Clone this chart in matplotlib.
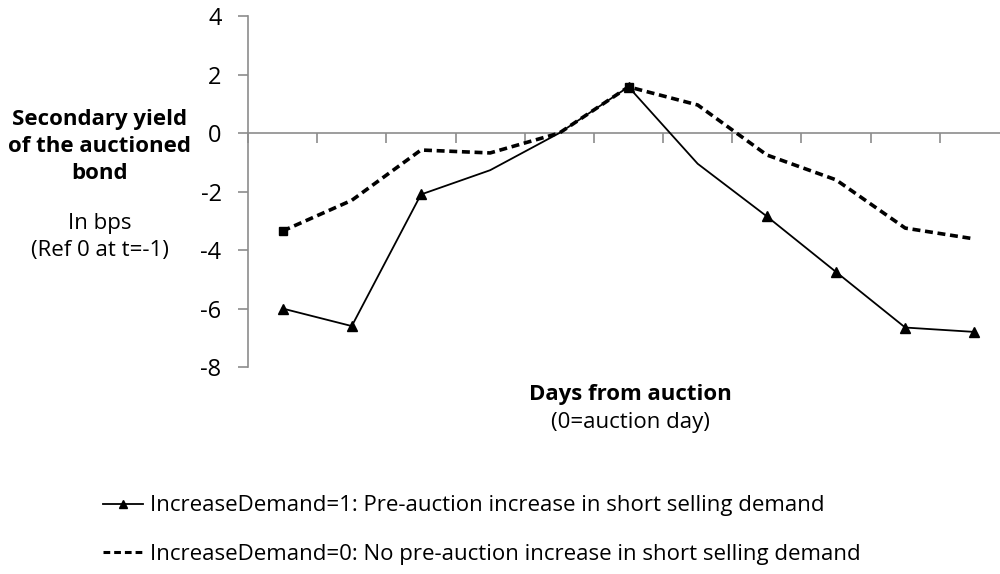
import matplotlib
matplotlib.use("Agg")
import matplotlib.pyplot as plt
from matplotlib.lines import Line2D

plt.rcParams['font.family'] = ['Open Sans', 'DejaVu Sans']

days = [-5, -4, -3, -2, -1, 0, 1, 2, 3, 4, 5]
increase_demand_1 = [-6.0, -6.6, -2.1, -1.27, 0.0, 1.58, -1.05, -2.85, -4.75, -6.65, -6.8]
increase_demand_0 = [-3.35, -2.3, -0.58, -0.68, 0.0, 1.58, 0.96, -0.75, -1.6, -3.25, -3.62]
yticks = [-8, -6, -4, -2, 0, 2, 4]
label_1 = "IncreaseDemand=1: Pre-auction increase in short selling demand"
label_0 = "IncreaseDemand=0: No pre-auction increase in short selling demand"

fig = plt.figure(figsize=(10, 5.74), dpi=100)
ax = fig.add_axes([0.248, 0.3606, 0.761, 0.6114])

x = list(range(len(days)))
ax.plot(x, increase_demand_1, color='black', lw=1.3, marker='^', ms=7,
        markevery=[0, 1, 2, 5, 7, 8, 9, 10], zorder=3)
ax.plot(x, increase_demand_0, color='black', lw=2.6, ls=(0, (2.2, 1.3)),
        marker='s', ms=6, markevery=[0, 5], zorder=3)

ax.set_xlim(-0.5, len(days) - 0.5)
ax.set_ylim(-8, 4)
ax.set_yticks(yticks)
ax.set_yticklabels([str(v) for v in yticks], fontsize=17)
ax.set_xticks([i - 0.5 for i in range(len(days) + 1)])
ax.set_xticklabels([])

for s in ['top', 'right']:
    ax.spines[s].set_visible(False)
ax.spines['bottom'].set_position(('data', 0))
ax.spines['bottom'].set_color('#8c8c8c')
ax.spines['left'].set_color('#8c8c8c')
ax.spines['bottom'].set_linewidth(1.2)
ax.spines['left'].set_linewidth(1.2)
ax.tick_params(axis='y', direction='out', length=7, color='#8c8c8c', width=1.2, pad=12)
ax.tick_params(axis='x', direction='out', length=7, color='#8c8c8c', width=1.2)

fig.text(0.100, 0.745, "Secondary yield\nof the auctioned\nbond", ha='center', va='center',
         fontsize=16, fontweight='bold', linespacing=1.36)
fig.text(0.100, 0.587, "In bps\n(Ref 0 at t=-1)", ha='center', va='center',
         fontsize=16, linespacing=1.38)
fig.text(0.630, 0.3135, "Days from auction", ha='center', va='center',
         fontsize=16, fontweight='bold')
fig.text(0.630, 0.2645, "(0=auction day)", ha='center', va='center', fontsize=16)

handles = [Line2D([0], [0], color='black', lw=1.3, marker='^', ms=6, markevery=[1]),
           Line2D([0], [0], color='black', lw=2.2, ls=(0, (2.2, 1.3)))]
leg = fig.legend(handles, [label_1, label_0], loc='center left',
                 bbox_to_anchor=(0.083, 0.076), frameon=False, fontsize=16,
                 handlelength=1.8, handletextpad=0.3, labelspacing=1.25)

fig.savefig("out.png", dpi=100, facecolor='white')
